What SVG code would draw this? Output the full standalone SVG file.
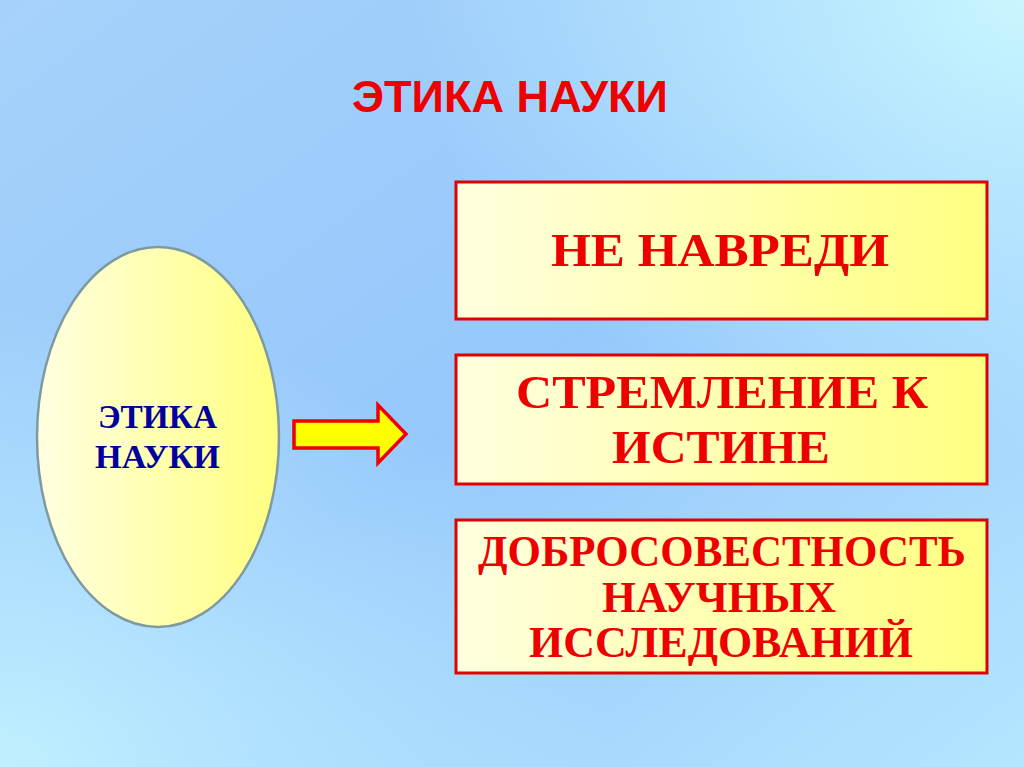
<svg xmlns="http://www.w3.org/2000/svg" width="1024" height="767" viewBox="0 0 1024 767">
<defs>
<linearGradient id="bg" x1="0" y1="0" x2="1" y2="1">
<stop offset="0" stop-color="#a6d2fa"/>
<stop offset="0.5" stop-color="#96c8fc"/>
<stop offset="1" stop-color="#b4e6ff"/>
</linearGradient>
<radialGradient id="tr" cx="1" cy="0" r="0.6">
<stop offset="0" stop-color="#c8f6ff" stop-opacity="1"/>
<stop offset="1" stop-color="#c8f6ff" stop-opacity="0"/>
</radialGradient>
<radialGradient id="bl" cx="0" cy="1" r="0.6">
<stop offset="0" stop-color="#c0f0ff" stop-opacity="1"/>
<stop offset="1" stop-color="#c0f0ff" stop-opacity="0"/>
</radialGradient>
<linearGradient id="yel" x1="0" y1="0" x2="1" y2="0">
<stop offset="0" stop-color="#ffffe0"/>
<stop offset="1" stop-color="#ffff80"/>
</linearGradient>
<style>
.box{fill:url(#yel);stroke:#e00000;stroke-width:3}
.bt{font-family:"Liberation Serif",serif;font-weight:bold;fill:#ee0000;text-anchor:middle;font-size:46px}
.st{font-size:44px}
.et{font-family:"Liberation Serif",serif;font-weight:bold;fill:#0000a0;text-anchor:middle;font-size:34px}
</style>
</defs>
<rect width="1024" height="767" fill="url(#bg)"/>
<rect width="1024" height="767" fill="url(#tr)"/>
<rect width="1024" height="767" fill="url(#bl)"/>
<text x="510" y="112" font-family="Liberation Sans, Arial, sans-serif" font-weight="bold" font-size="44" fill="#ee0000" text-anchor="middle" textLength="316" lengthAdjust="spacingAndGlyphs">ЭТИКА НАУКИ</text>
<g id="ellipse">
<ellipse cx="158" cy="437" rx="121" ry="190" fill="url(#yel)" stroke="#7e9aa0" stroke-width="2.5"/>
<text class="et" x="157.5" y="428" textLength="119" lengthAdjust="spacingAndGlyphs">ЭТИКА</text>
<text class="et" x="157.5" y="468" textLength="125" lengthAdjust="spacingAndGlyphs">НАУКИ</text>
</g>
<g id="connectors">
<path d="M294,421 H378 V405 L406,434 L378,463 V448 H294 Z" fill="#ffff00" stroke="#ee0000" stroke-width="3.5" stroke-linejoin="miter"/>
</g>
<g id="box1">
<rect class="box" x="456" y="182" width="531" height="137"/>
<text class="bt" x="720" y="266" textLength="338" lengthAdjust="spacingAndGlyphs">НЕ НАВРЕДИ</text>
</g>
<g id="box2">
<rect class="box" x="456" y="355" width="531" height="129"/>
<text class="bt" x="722" y="408" textLength="412" lengthAdjust="spacingAndGlyphs">СТРЕМЛЕНИЕ К</text>
<text class="bt" x="721" y="463" textLength="218" lengthAdjust="spacingAndGlyphs">ИСТИНЕ</text>
</g>
<g id="box3">
<rect class="box" x="456" y="520" width="531" height="153"/>
<text class="bt st" x="722" y="566" textLength="488" lengthAdjust="spacingAndGlyphs">ДОБРОСОВЕСТНОСТЬ</text>
<text class="bt st" x="719" y="612" textLength="234" lengthAdjust="spacingAndGlyphs">НАУЧНЫХ</text>
<text class="bt st" x="721" y="657" textLength="384" lengthAdjust="spacingAndGlyphs">ИССЛЕДОВАНИЙ</text>
</g>
</svg>
